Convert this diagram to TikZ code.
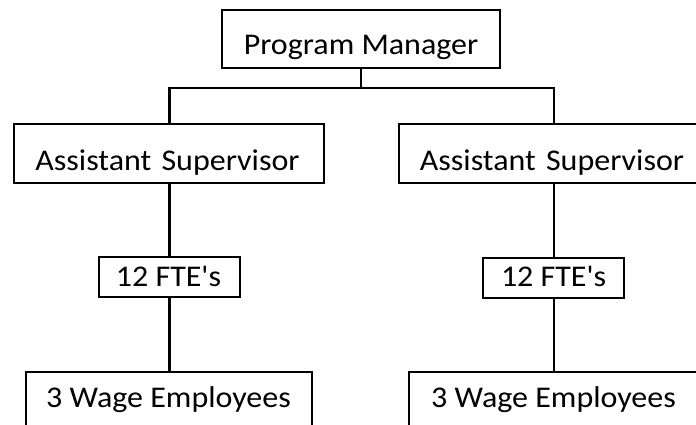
\documentclass[tikz,border=0pt]{standalone}
\usepackage{fontspec}
\usepackage{graphicx}
\newfontfamily\boxfont{Carlito}
\newcommand\sqtext[1]{\scalebox{1}[0.94]{#1}}
\tikzset{
  orgbox/.style={draw=black, line width=2pt, inner sep=0pt, fill=white},
  orgtext/.style={anchor=base, inner sep=0pt, font=\boxfont\fontsize{32}{38}\selectfont},
  conn/.style={draw=black, line width=2.2pt}
}
\begin{document}
\begin{tikzpicture}[x=1pt,y=1pt]
\useasboundingbox (0,0) rectangle (696,425);
\clip (0,0) rectangle (696,425);
\fill[white] (0,0) rectangle (696,425);
% boxes
\node[orgbox, minimum width=278pt, minimum height=58pt] (pm) at (361,386) {};
\node[orgbox, minimum width=310pt, minimum height=58.5pt] (asL) at (169,271.25) {};
\node[orgbox, minimum width=310pt, minimum height=58.5pt] (asR) at (554,271.25) {};
\node[orgbox, minimum width=141pt, minimum height=40pt] (fteL) at (169,148) {};
\node[orgbox, minimum width=141pt, minimum height=40pt] (fteR) at (553.5,147) {};
\node[orgbox, minimum width=286pt, minimum height=80pt] (wL) at (169,13) {};
\node[orgbox, minimum width=290pt, minimum height=80pt] (wR) at (554,13) {};
% texts
\node[orgtext] (pmT) at (361,370) {\sqtext{Program Manager}};
\node[orgtext] (asLT) at (167.5,254.5) {\sqtext{Assistant\hspace{3pt} Supervisor}};
\node[orgtext] (asRT) at (552,254.5) {\sqtext{Assistant\hspace{3pt} Supervisor}};
\node[orgtext] (fteLT) at (168.5,138.8) {\sqtext{12 FTE's}};
\node[orgtext] (fteRT) at (553.6,138) {\sqtext{12 FTE's}};
\node[orgtext] (wLT) at (168.5,17.5) {\sqtext{3 Wage Employees}};
\node[orgtext] (wRT) at (553.5,17) {\sqtext{3 Wage Employees}};
% connector coordinates
\coordinate (jM) at (361,337);
\coordinate (jL) at (169.5,337);
\coordinate (jR) at (554,337);
% connectors
\draw[conn] (pm.south) -- (jM);
\draw[conn] (asL.north -| jL) -- (jL) -- (jR) -- (asR.north -| jR);
\draw[conn] (asL.south -| jL) -- (fteL.north -| jL);
\draw[conn] (fteL.south -| jL) -- (wL.north -| jL);
\draw[conn] (asR.south -| jR) -- (fteR.north -| jR);
\draw[conn] (fteR.south -| jR) -- (wR.north -| jR);
\end{tikzpicture}
\end{document}
